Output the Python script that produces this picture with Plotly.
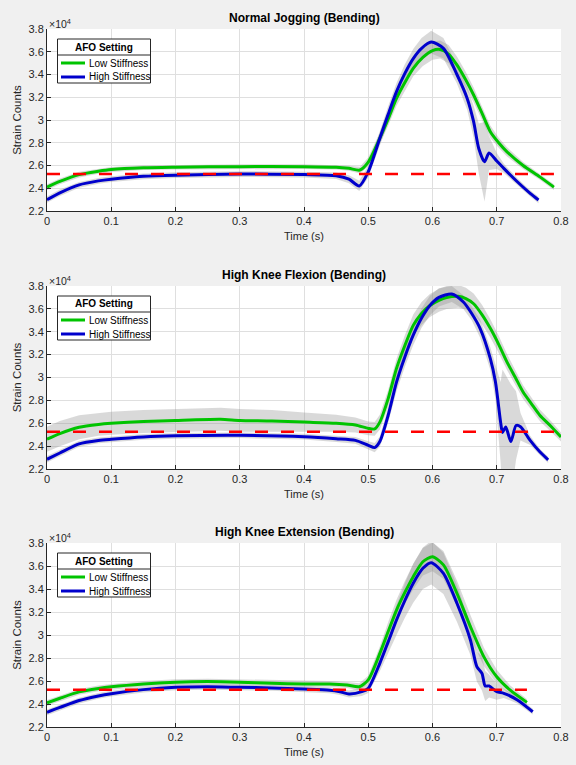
import plotly.graph_objects as go

# ---------------- data ----------------
panel_titles = ["Normal Jogging (Bending)", "High Knee Flexion (Bending)", "High Knee Extension (Bending)"]
series_names = ["Low Stiffness", "High Stiffness"]
legend_title = "AFO Setting"
x_ticks = [0, 0.1, 0.2, 0.3, 0.4, 0.5, 0.6, 0.7, 0.8]
y_ticks = [22000, 24000, 26000, 28000, 30000, 32000, 34000, 36000, 38000]
y_tick_labels = ["2.2", "2.4", "2.6", "2.8", "3", "3.2", "3.4", "3.6", "3.8"]
baseline = 25250

# Normal Jogging
t_jog_low = [0, 0.02, 0.05, 0.08, 0.1, 0.15, 0.2, 0.3, 0.4, 0.45, 0.47, 0.487, 0.5, 0.518, 0.531, 0.544,
             0.557, 0.57, 0.585, 0.6, 0.612, 0.625, 0.638, 0.651, 0.664, 0.677, 0.69, 0.703, 0.716, 0.741, 0.767, 0.789]
jog_low = [24100, 24600, 25200, 25500, 25650, 25800, 25850, 25900, 25900, 25850, 25750, 25600, 26300, 28400,
           30100, 31900, 33300, 34540, 35500, 36100, 36200, 35800, 34840, 33600, 32200, 30600, 28970, 28000,
           27200, 26000, 25000, 24100]
jog_low_sd = [250, 250, 250, 230, 220, 200, 200, 200, 200, 200, 220, 300, 400, 500, 600, 650, 700, 700, 750,
              800, 800, 800, 750, 700, 650, 600, 550, 450, 400, 300, 250, 250]
t_jog_high = [0, 0.02, 0.05, 0.08, 0.1, 0.15, 0.2, 0.3, 0.4, 0.45, 0.47, 0.486, 0.5, 0.518, 0.531, 0.544,
              0.557, 0.57, 0.583, 0.598, 0.617, 0.638, 0.654, 0.664, 0.672, 0.681, 0.688, 0.7, 0.711, 0.732, 0.752, 0.765]
jog_high = [23000, 23600, 24300, 24650, 24800, 25050, 25150, 25250, 25200, 25100, 24800, 24200, 25450, 28400,
            30500, 32500, 34100, 35400, 36300, 36850, 36300, 34000, 31900, 29850, 27500, 26330, 27100, 26400,
            25750, 24570, 23550, 22970]
jog_high_sd = [280, 280, 260, 250, 250, 250, 250, 250, 250, 280, 350, 450, 500, 650, 700, 750, 800, 850, 900,
               1000, 900, 800, 1000, 1400, 2200, 3500, 1500, 700, 400, 300, 280, 280]

# High Knee Flexion
t_flex_low = [0, 0.02, 0.05, 0.08, 0.1, 0.15, 0.2, 0.27, 0.3, 0.35, 0.4, 0.45, 0.48, 0.5, 0.51, 0.518, 0.531,
              0.544, 0.557, 0.57, 0.583, 0.596, 0.61, 0.622, 0.64, 0.652, 0.664, 0.677, 0.69, 0.703, 0.716, 0.729,
              0.741, 0.754, 0.767, 0.785, 0.8]
flex_low = [24600, 25100, 25650, 25900, 26000, 26150, 26250, 26350, 26250, 26200, 26100, 26000, 25850, 25550,
            25500, 26100, 28150, 30800, 32800, 34560, 35600, 36300, 36750, 37000, 37100, 36900, 36450, 35500,
            34300, 32900, 31350, 30000, 28730, 27700, 26700, 25700, 24800]
flex_low_sd = [1100, 1100, 1050, 1000, 1000, 1000, 1000, 1000, 1000, 950, 850, 750, 650, 600, 600, 650, 750,
               850, 900, 950, 1000, 1000, 1000, 1000, 1000, 950, 900, 850, 800, 750, 700, 650, 600, 550, 500, 450, 400]
t_flex_high = [0, 0.02, 0.05, 0.08, 0.1, 0.15, 0.2, 0.3, 0.4, 0.45, 0.48, 0.5, 0.51, 0.518, 0.531, 0.544, 0.557,
               0.57, 0.583, 0.596, 0.61, 0.63, 0.648, 0.661, 0.674, 0.69, 0.698, 0.706, 0.709, 0.714, 0.722, 0.73,
               0.737, 0.752, 0.767, 0.78]
flex_high = [22850, 23400, 24200, 24500, 24600, 24800, 24900, 24950, 24830, 24650, 24500, 24070, 23870, 24400,
             26700, 29600, 31800, 33700, 35200, 36300, 37000, 37300, 36600, 35600, 34300, 31650, 29600, 26100,
             25200, 25670, 24400, 25800, 25700, 24500, 23500, 22800]
flex_high_sd = [280, 280, 260, 250, 250, 250, 250, 250, 250, 280, 300, 350, 400, 450, 650, 800, 850, 850, 850,
                850, 800, 700, 600, 600, 800, 1000, 1500, 3500, 5500, 4500, 5000, 3000, 1200, 400, 280, 280]

# High Knee Extension
t_ext_low = [0, 0.02, 0.05, 0.08, 0.1, 0.15, 0.2, 0.25, 0.3, 0.35, 0.4, 0.44, 0.467, 0.486, 0.5, 0.518, 0.531,
             0.544, 0.557, 0.57, 0.585, 0.6, 0.617, 0.638, 0.659, 0.68, 0.7, 0.721, 0.747]
ext_low = [24100, 24500, 25050, 25350, 25500, 25750, 25900, 25950, 25900, 25800, 25750, 25740, 25650, 25500,
           26100, 28400, 30300, 32170, 33700, 35070, 36370, 36800, 36100, 33630, 30730, 28100, 26370, 25200, 24140]
ext_low_sd = [250, 250, 250, 250, 250, 250, 250, 250, 250, 250, 250, 250, 260, 300, 350, 600, 800, 900, 1000,
              1100, 1200, 1250, 1200, 1100, 1000, 800, 600, 400, 280]
t_ext_high = [0, 0.02, 0.05, 0.08, 0.1, 0.15, 0.2, 0.25, 0.3, 0.35, 0.4, 0.44, 0.456, 0.47, 0.49, 0.5, 0.518,
              0.531, 0.544, 0.557, 0.57, 0.585, 0.598, 0.617, 0.638, 0.659, 0.669, 0.677, 0.682, 0.688, 0.7, 0.711,
              0.732, 0.756]
ext_high = [23280, 23700, 24300, 24700, 24900, 25250, 25450, 25500, 25450, 25400, 25300, 25200, 25070, 24870,
            25070, 25360, 27540, 29400, 31300, 33000, 34500, 35800, 36290, 35360, 32760, 29570, 27250, 26670,
            25570, 25570, 25070, 24930, 24350, 23330]
ext_high_sd = [250, 250, 250, 250, 250, 250, 250, 250, 250, 250, 250, 260, 280, 300, 380, 400, 700, 1000, 1300,
               1500, 1700, 1800, 1900, 1800, 1600, 1300, 1300, 1500, 1300, 1000, 700, 400, 300, 250]

panels = [
    (t_jog_low, jog_low, jog_low_sd, t_jog_high, jog_high, jog_high_sd),
    (t_flex_low, flex_low, flex_low_sd, t_flex_high, flex_high, flex_high_sd),
    (t_ext_low, ext_low, ext_low_sd, t_ext_high, ext_high, ext_high_sd),
]

# ---------------- layout geometry (pixels) ----------------
W, H = 576, 765
plot_left, plot_right = 47, 561
plot_tops = [29, 286, 543]
plot_bottoms = [211, 469, 727]

GREEN = "#00c400"
BLUE = "#0000cc"
RED = "#ff0000"
BAND = "rgba(140,140,140,0.33)"
FONT = "Liberation Sans, Arial, sans-serif"
TICKC = "#262626"
series_colors = [GREEN, BLUE]


def px(x):
    return x / W


def py(y):
    return 1 - y / H


fig = go.Figure()
layout = dict(
    width=W, height=H, autosize=False,
    margin=dict(l=0, r=0, t=0, b=0),
    paper_bgcolor="#f0f0f0", plot_bgcolor="white",
    font=dict(family=FONT, size=11, color=TICKC),
    showlegend=False,
    annotations=[], shapes=[],
)

for i, (tl, yl, sl, th, yh, sh) in enumerate(panels):
    n = "" if i == 0 else str(i + 1)
    xa, ya = "x" + n, "y" + n
    # shaded variability bands
    for t, y, s in ((tl, yl, sl), (th, yh, sh)):
        up = [a + b for a, b in zip(y, s)]
        lo = [a - b for a, b in zip(y, s)]
        fig.add_trace(go.Scatter(x=list(t) + list(t)[::-1], y=up + lo[::-1], fill="toself",
                                 fillcolor=BAND, line=dict(width=0), mode="lines",
                                 showlegend=False, hoverinfo="skip", xaxis=xa, yaxis=ya))
    fig.add_trace(go.Scatter(x=tl, y=yl, mode="lines", name=series_names[0],
                             line=dict(color=GREEN, width=3, shape="spline", smoothing=0.7),
                             xaxis=xa, yaxis=ya))
    fig.add_trace(go.Scatter(x=th, y=yh, mode="lines", name=series_names[1],
                             line=dict(color=BLUE, width=3, shape="spline", smoothing=0.7),
                             xaxis=xa, yaxis=ya))
    fig.add_trace(go.Scatter(x=[tl[0], tl[-1]], y=[baseline, baseline], mode="lines",
                             line=dict(color=RED, width=2.5, dash="13px,13px"),
                             showlegend=False, hoverinfo="skip", xaxis=xa, yaxis=ya))

    layout["xaxis" + n] = dict(
        domain=[px(plot_left), px(plot_right)], range=[0, 0.8], tickvals=x_ticks,
        ticktext=[("%g" % v) for v in x_ticks], ticks="inside", ticklen=4, tickcolor=TICKC,
        showline=True, linecolor=TICKC, linewidth=1, showgrid=True, gridcolor="#dfdfdf",
        zeroline=False, anchor=ya, automargin=False, tickfont=dict(size=11, color=TICKC),
        title=dict(text="Time (s)", font=dict(size=11, color=TICKC), standoff=6),
    )
    layout["yaxis" + n] = dict(
        domain=[py(plot_bottoms[i]), py(plot_tops[i])], range=[22000, 38000], tickvals=y_ticks,
        ticktext=y_tick_labels, ticks="inside", ticklen=4, tickcolor=TICKC, showline=True,
        linecolor=TICKC, linewidth=1, showgrid=True, gridcolor="#dfdfdf", zeroline=False,
        anchor=xa, automargin=False, tickfont=dict(size=11, color=TICKC),
        title=dict(text="Strain Counts", font=dict(size=11.5, color=TICKC), standoff=4),
    )
    layout["annotations"].append(dict(
        text="<b>" + panel_titles[i] + "</b>", x=px((plot_left + plot_right) / 2),
        y=py(plot_tops[i] - 11), xref="paper", yref="paper", showarrow=False,
        xanchor="center", yanchor="middle", font=dict(family=FONT, size=12, color="black")))
    layout["annotations"].append(dict(
        text="×10<sup>4</sup>", x=px(plot_left), y=py(plot_tops[i] - 6), xref="paper", yref="paper",
        showarrow=False, xanchor="left", yanchor="middle", font=dict(family=FONT, size=10.5, color=TICKC)))

    # legend box (MATLAB style, with title separator)
    top = plot_tops[i] + 10
    lx0, lx1 = 57.5, 150.5
    layout["shapes"].append(dict(type="rect", xref="paper", yref="paper", layer="above",
                                 x0=px(lx0), x1=px(lx1), y0=py(top + 44), y1=py(top),
                                 fillcolor="white", line=dict(color="#262626", width=1)))
    layout["shapes"].append(dict(type="line", xref="paper", yref="paper", layer="above",
                                 x0=px(lx0), x1=px(lx1), y0=py(top + 16), y1=py(top + 16),
                                 line=dict(color="#262626", width=1)))
    layout["annotations"].append(dict(
        text="<b>" + legend_title + "</b>", x=px((lx0 + lx1) / 2), y=py(top + 8), xref="paper",
        yref="paper", showarrow=False, xanchor="center", yanchor="middle",
        font=dict(family=FONT, size=10, color="black")))
    for k, (name, col) in enumerate(zip(series_names, series_colors)):
        ey = top + 24 + 14 * k
        layout["shapes"].append(dict(type="line", xref="paper", yref="paper", layer="above",
                                     x0=px(61), x1=px(85), y0=py(ey), y1=py(ey),
                                     line=dict(color=col, width=3)))
        layout["annotations"].append(dict(
            text=name, x=px(86.5), y=py(ey), xref="paper", yref="paper", showarrow=False,
            xanchor="left", yanchor="middle", font=dict(family=FONT, size=10, color="black")))

fig.update_layout(**layout)
fig.write_html("out.html")
